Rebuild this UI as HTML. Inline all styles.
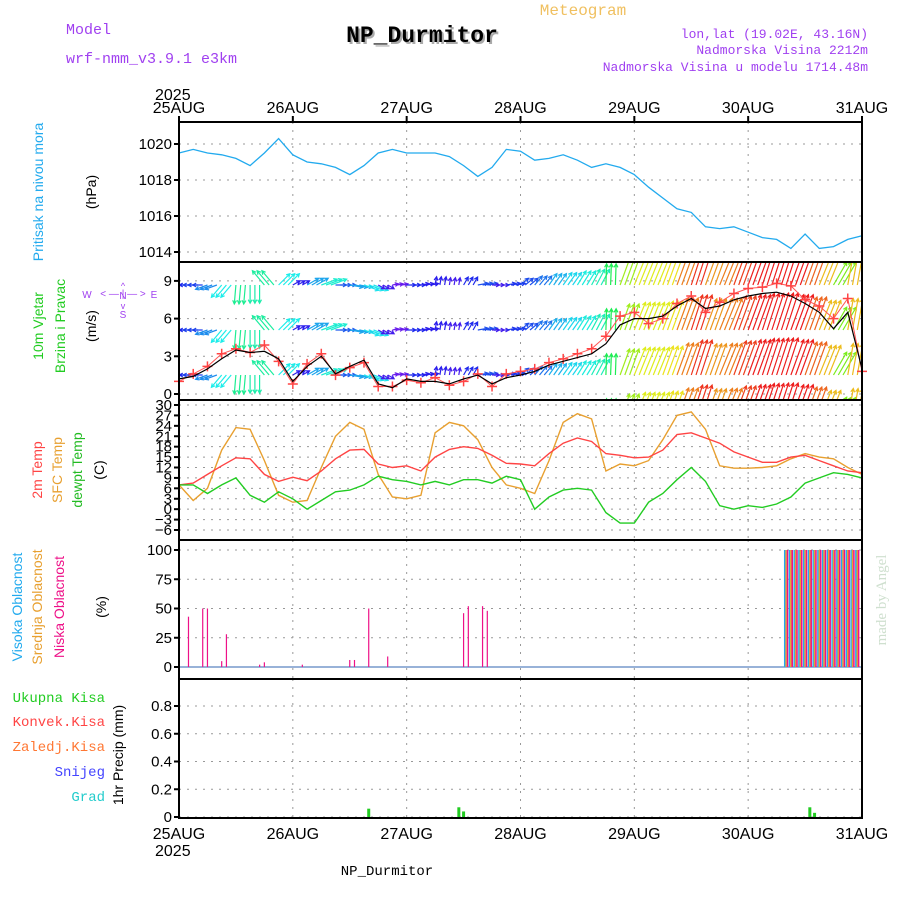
<!DOCTYPE html>
<html><head><meta charset="utf-8"><style>
html,body{margin:0;padding:0;background:#fff;}
svg{display:block;font-family:"Liberation Sans",sans-serif;}
</style></head><body>
<svg id="chart" width="900" height="900" viewBox="0 0 900 900">
<defs>
<clipPath id="windClip"><rect x="179" y="263" width="683" height="137"/></clipPath>
</defs>
<g>
<text x="66" y="34" fill="#a040f0" font-size="15" font-family="Liberation Mono,monospace">Model</text>
<text x="66" y="63" fill="#a040f0" font-size="15" font-family="Liberation Mono,monospace">wrf-nmm_v3.9.1 e3km</text>
<text x="424" y="44" fill="#aaa" font-size="23" font-weight="bold" text-anchor="middle" font-family="Liberation Mono,monospace">NP_Durmitor</text>
<text x="422" y="42" fill="#000" font-size="23" font-weight="bold" text-anchor="middle" font-family="Liberation Mono,monospace">NP_Durmitor</text>
<text x="583" y="15" fill="#f0c060" font-size="16" text-anchor="middle" font-family="Liberation Mono,monospace">Meteogram</text>
<text x="868" y="38" fill="#a040f0" font-size="13" text-anchor="end" font-family="Liberation Mono,monospace">lon,lat (19.02E, 43.16N)</text>
<text x="868" y="54" fill="#a040f0" font-size="13" text-anchor="end" font-family="Liberation Mono,monospace">Nadmorska Visina 2212m</text>
<text x="868" y="71" fill="#a040f0" font-size="13" text-anchor="end" font-family="Liberation Mono,monospace">Nadmorska Visina u modelu 1714.48m</text>
<text x="155" y="100" font-size="16">2025</text>
<text x="155" y="856" font-size="16">2025</text>
<text x="387" y="875" font-size="14" text-anchor="middle" font-family="Liberation Mono,monospace">NP_Durmitor</text>
<text transform="translate(886,600) rotate(-90)" fill="#cfe0cf" font-size="15" text-anchor="middle" font-family="Liberation Serif,serif">made by Angel</text>
</g>
<g>
<text transform="translate(43,192) rotate(-90)" fill="#22aaee" font-size="14" text-anchor="middle">Pritisak na nivou mora</text>
<text transform="translate(96,192) rotate(-90)" font-size="14" text-anchor="middle">(hPa)</text>
<text transform="translate(43,326) rotate(-90)" fill="#22cc22" font-size="14" text-anchor="middle">10m Vjetar</text>
<text transform="translate(65,326) rotate(-90)" fill="#22cc22" font-size="14" text-anchor="middle">Brzina i Pravac</text>
<text transform="translate(96,326) rotate(-90)" font-size="14" text-anchor="middle">(m/s)</text>
<g fill="#a040f0" font-size="10" text-anchor="middle">
<text x="123" y="299">N</text>
<text x="123" y="318" font-size="10">S</text>
<text x="87" y="298">W</text>
<text x="154" y="298">E</text>
<text x="123" y="297">&lt; — | — &gt;</text>
<text x="123" y="289" font-size="9">^</text>
<text x="123" y="309" font-size="9">v</text>
</g>
<text transform="translate(42,470) rotate(-90)" fill="#ff4444" font-size="14" text-anchor="middle">2m Temp</text>
<text transform="translate(62,470) rotate(-90)" fill="#e8a030" font-size="14" text-anchor="middle">SFC Temp</text>
<text transform="translate(82,470) rotate(-90)" fill="#22bb22" font-size="14" text-anchor="middle">dewpt Temp</text>
<text transform="translate(104,470) rotate(-90)" font-size="14" text-anchor="middle">(C)</text>
<text transform="translate(22,607) rotate(-90)" fill="#22aaee" font-size="14" text-anchor="middle">Visoka Oblacnost</text>
<text transform="translate(42,607) rotate(-90)" fill="#e8a030" font-size="14" text-anchor="middle">Srednja Oblacnost</text>
<text transform="translate(64,607) rotate(-90)" fill="#ee1188" font-size="14" text-anchor="middle">Niska Oblacnost</text>
<text transform="translate(106,607) rotate(-90)" font-size="14" text-anchor="middle">(%)</text>
<g font-size="14" text-anchor="end" font-family="Liberation Mono,monospace">
<text x="105" y="702" fill="#22cc22">Ukupna Kisa</text>
<text x="105" y="726" fill="#ff4444">Konvek.Kisa</text>
<text x="105" y="751" fill="#ff7733">Zaledj.Kisa</text>
<text x="105" y="776" fill="#4444ff">Snijeg</text>
<text x="105" y="801" fill="#22cccc">Grad</text>
</g>
<text transform="translate(123,755) rotate(-90)" font-size="14" text-anchor="middle">1hr Precip (mm)</text>
</g>
<g id="plots"></g>
</svg>
<script>
// ---- data (3-hourly, 49 points, 25AUG 00 to 31AUG 00) ----
const dayLabels = ["25AUG","26AUG","27AUG","28AUG","29AUG","30AUG","31AUG"];
const pressure = [1019.5,1019.7,1019.5,1019.4,1019.2,1018.8,1019.5,1020.3,1019.4,1019.0,1018.9,1018.7,1018.3,1018.8,1019.5,1019.7,1019.5,1019.5,1019.5,1019.3,1018.8,1018.2,1018.7,1019.7,1019.6,1019.1,1019.2,1019.4,1019.1,1018.7,1018.9,1018.7,1018.3,1017.6,1017.0,1016.4,1016.2,1015.4,1015.3,1015.4,1015.1,1014.8,1014.7,1014.2,1015.0,1014.2,1014.3,1014.7,1014.9];
const pressureTicks = [1014,1016,1018,1020];
const windSpeed = [1.2,1.4,2.0,2.8,3.5,3.3,3.4,2.8,1.0,2.2,3.0,1.6,2.2,2.7,0.8,0.5,1.2,1.0,1.0,0.8,1.2,1.5,0.8,1.3,1.5,1.8,2.3,2.6,2.9,3.2,4.0,5.5,6.0,6.0,6.2,7.0,7.6,6.8,7.0,7.5,7.8,8.0,8.1,7.8,7.2,6.5,5.2,6.5,2.0];
const windGust = [1.0,1.6,2.2,3.2,3.6,3.3,3.9,2.6,0.8,2.4,3.2,1.5,2.1,2.5,0.6,0.6,1.1,0.9,1.3,0.7,1.0,1.6,0.6,1.6,1.8,2.0,2.5,2.8,3.2,3.6,4.6,6.2,6.5,5.6,6.0,7.2,7.8,6.5,7.3,8.0,8.4,8.5,8.8,8.6,7.5,7.0,6.0,7.6,1.8];
const windDir = [180,180,200,230,265,270,130,45,30,30,20,0,-10,-20,-30,10,0,10,80,80,60,10,0,10,40,50,55,55,58,62,88,70,68,68,70,70,72,70,68,70,70,72,72,70,70,68,60,80,120];
const windTicks = [0,3,6,9];
const temp2m = [7,7.5,10,12.5,14.8,14.5,10,8,9.2,8.2,11,14.5,17,17.2,13,12,12.5,11,15,17.2,18,17.5,15.5,13.2,13,12.5,16,19,20.5,19.5,16,15.5,14.8,15,17,21.5,22,20.5,19,16.5,15,13.5,13.5,15,15.5,14,12.5,11,10.5];
const tempSfc = [7,2.5,6,17,23.5,23,14,4,2,2.5,12,21,25,23,10,3.5,3,4,22,25,24,20,12,7,6,4.5,14,25,27.5,26,11,13,12.5,14,20,27,28,23,12.5,11.8,11.8,12,12.5,14.5,16,15,14.5,12,10];
const dewpt = [7,7,4.5,7,9,4,2,5,3,0,2.5,5,5.5,7,9.5,8.5,8,7,8,7,8.5,8.5,7.5,9.5,8.5,0,3.5,5.5,6,5.5,-1,-4,-4,2,4.5,8.5,12,8,1,0,1,0.5,1.5,3.5,7.5,9,10.5,10,9];
const tempTicks = [-6,-3,0,3,6,9,12,15,18,21,24,27,30];
// cloud cover (hour index, %)
const lowCloudHours = [2,5,6,9,10,17,18,26,36,37,40,44,60,61,64,65];
const lowCloudVals = [43,50,50,5,28,2,4,2,6,6,50,9,46,52,52,48];
const fullCloudStart = 128;
const fullCloudEnd = 143;
const fullCloudVal = 100;
const cloudTicks = [0,25,50,75,100];
// precipitation (hour index, mm)
const precipHours = [40,59,60,133,134];
const precipVals = [0.06,0.07,0.04,0.07,0.03];
const precipTicks = [0,0.2,0.4,0.6,0.8];

// ---- layout ----
const X0=179, X1=862, HOURS=144;
const xH = h => X0 + h*(X1-X0)/HOURS;
const xI = i => xH(i*3);
const yP = v => 144 + (1020-v)*18;
const yW = v => 394 - v*37.7/3;
const yT = v => 405 + (30-v)*125/36;
const yC = v => 667 - v*1.17;
const yR = v => 817 - v*138.75;
const NS="http://www.w3.org/2000/svg";
const root=document.getElementById('plots');
function mk(tag, attrs, parent){const e=document.createElementNS(NS,tag);for(const k in attrs)e.setAttribute(k,attrs[k]);(parent||root).appendChild(e);return e;}
function pathOf(arr, yf){return arr.map((v,i)=>(i?'L':'M')+xI(i).toFixed(1)+' '+yf(v).toFixed(1)).join(' ');}

const panels=[[122,262],[262,400],[400,540],[540,679],[679,818]];
// grid
panels.forEach((p,pi)=>{
  for(let d=1;d<6;d++){
    const l=mk('line',{x1:xH(d*24),x2:xH(d*24),y1:p[0],y2:p[1],stroke:'#999','stroke-dasharray':'2 6'});
    
    
  }
});
function hgrid(ticks,yf,fmt,name){
  ticks.forEach(t=>{
    const g=mk('line',{x1:X0,x2:X1,y1:yf(t),y2:yf(t),stroke:'#999','stroke-dasharray':'2 6'});
    
    
    const tk=mk('line',{x1:X0-5,x2:X0,y1:yf(t),y2:yf(t),stroke:'#000','stroke-width':2});
    
    
    const tx=mk('text',{x:X0-7,y:yf(t)+5,'font-size':15,'text-anchor':'end'});
    tx.textContent=fmt(t);
    
    
  });
}
hgrid(pressureTicks,yP,t=>t,'pressure');
hgrid(windTicks,yW,t=>t,'wind');
hgrid(tempTicks,yT,t=>t<0?'−'+(-t):t,'temp');
hgrid(cloudTicks,yC,t=>t,'cloud');
hgrid(precipTicks,yR,t=>t===0?'0':t.toFixed(1),'precip');

// pressure line
const pl=mk('path',{d:pathOf(pressure,yP),fill:'none',stroke:'#22aaee','stroke-width':1.3});



// wind arrows
const wg=mk('g',{'clip-path':'url(#windClip)'});


function speedColor(s){const h=Math.max(0,280-s*36);return 'hsl('+((h+360)%360)+',85%,52%)';}
const rowBase=[285,330,375,420];
for(let h=0;h<HOURS;h++){
  const i=Math.floor(h/3);
  const s=windSpeed[i], a=windDir[i]*Math.PI/180, L=4+s*4.3;
  rowBase.forEach(yb=>{
    const x1=xH(h), x2=x1+L*Math.cos(a), y2=yb-L*Math.sin(a);
    const c=speedColor(s);
    const ar=mk('path',{d:`M${x1.toFixed(1)} ${yb} L${x2.toFixed(1)} ${y2.toFixed(1)} M${(x2-4*Math.cos(a-0.5)).toFixed(1)} ${(y2+4*Math.sin(a-0.5)).toFixed(1)} L${x2.toFixed(1)} ${y2.toFixed(1)} L${(x2-4*Math.cos(a+0.5)).toFixed(1)} ${(y2+4*Math.sin(a+0.5)).toFixed(1)}`,stroke:c,fill:'none','stroke-width':1.2},wg);
    
    
  });
}
const gl=mk('path',{d:pathOf(windGust,yW),fill:'none',stroke:'#ff5555','stroke-width':1});


windGust.forEach((v,i)=>{
  const x=xI(i),y=yW(v);
  const m=mk('path',{d:`M${x-5} ${y}H${x+5}M${x} ${y-5}V${y+5}`,stroke:'#ff4444','stroke-width':1.5});
  
  
});
const sl=mk('path',{d:pathOf(windSpeed,yW),fill:'none',stroke:'#000','stroke-width':1.2});



// temperatures
const t1=mk('path',{d:pathOf(tempSfc,yT),fill:'none',stroke:'#e8a030','stroke-width':1.4});


const t2=mk('path',{d:pathOf(temp2m,yT),fill:'none',stroke:'#ff4444','stroke-width':1.4});


const t3=mk('path',{d:pathOf(dewpt,yT),fill:'none',stroke:'#22cc22','stroke-width':1.4});



// clouds
const cb=mk('line',{x1:X0,x2:X1,y1:yC(0),y2:yC(0),stroke:'#7799cc','stroke-width':1.5});


lowCloudHours.forEach((h,k)=>{
  const b=mk('line',{x1:xH(h),x2:xH(h),y1:yC(0),y2:yC(lowCloudVals[k]),stroke:'#ee1188','stroke-width':1.2});
  
  
});
for(let h=fullCloudStart;h<=fullCloudEnd;h++){
  [['#22aaee',-1.4,'high-cloud-bar'],['#e8a030',0,'mid-cloud-bar'],['#ee1188',1.4,'low-cloud-bar']].forEach(c=>{
    const b=mk('line',{x1:xH(h)+c[1],x2:xH(h)+c[1],y1:yC(0),y2:yC(fullCloudVal),stroke:c[0],'stroke-width':1.5});
    
    
  });
}
// precip
precipHours.forEach((h,k)=>{
  const b=mk('rect',{x:xH(h)-1.5,y:yR(precipVals[k]),width:3,height:yR(0)-yR(precipVals[k]),fill:'#22cc22'});
  
  
});

// frames
panels.forEach(p=>{
  const r=mk('rect',{x:X0,y:p[0],width:X1-X0,height:p[1]-p[0],fill:'none',stroke:'#000','stroke-width':2});
  
  
});
// day labels
dayLabels.forEach((d,i)=>{
  const x=xH(i*24);
  const a=mk('text',{x:x,y:113,'font-size':16,'text-anchor':'middle'});
  a.textContent=d;
  
  
  const b=mk('text',{x:x,y:839,'font-size':16,'text-anchor':'middle'});
  b.textContent=d;
  
  
  const tk=mk('line',{x1:x,x2:x,y1:116,y2:122,stroke:'#000','stroke-width':2});
  
  
});
</script>
</body></html>
